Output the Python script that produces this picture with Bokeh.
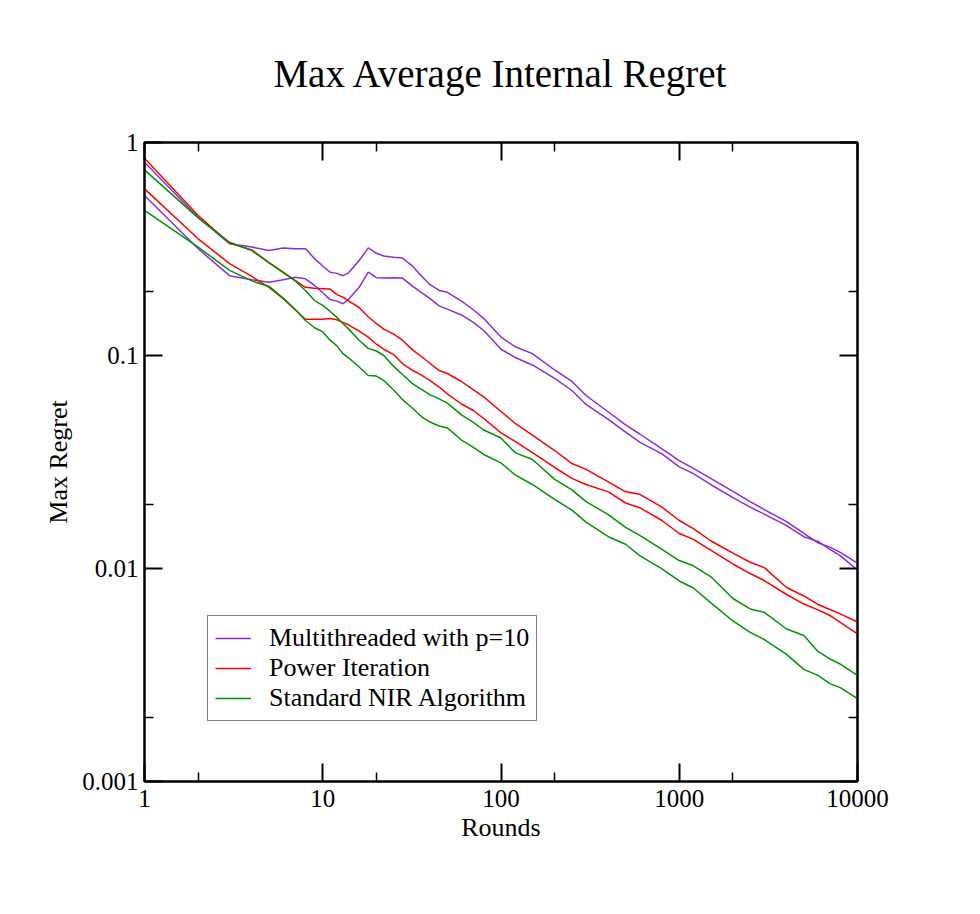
from bokeh.plotting import figure
from bokeh.models import LogAxis, FixedTicker, Legend, LegendItem, Range1d
from bokeh.embed import file_html
from bokeh.resources import INLINE

# ---------------- data ----------------
rounds = [1, 2, 3, 4, 5, 6, 7, 8, 9, 10,
          11, 12, 13, 14, 16, 18, 20, 22, 25, 28,
          32, 36, 40, 45, 50, 60, 70, 80, 100, 120,
          150, 200, 250, 300, 400, 500, 600, 800, 1000, 1200,
          1500, 2000, 2500, 3000, 4000, 5000, 6000, 7000, 8000, 10000]

multi_upper = [0.808, 0.445, 0.335, 0.323, 0.311, 0.320, 0.317, 0.317, 0.285, 0.263,
               0.246, 0.243, 0.237, 0.245, 0.279, 0.320, 0.302, 0.293, 0.289, 0.287,
               0.262, 0.235, 0.215, 0.202, 0.198, 0.180, 0.164, 0.149, 0.122, 0.110,
               0.102, 0.0855, 0.0755, 0.0649, 0.0543, 0.0472, 0.0428, 0.0364, 0.0321, 0.0295,
               0.0265, 0.0230, 0.0206, 0.0189, 0.0166, 0.0146, 0.0132, 0.0126, 0.0119, 0.0106]
multi_lower = [0.564, 0.317, 0.237, 0.227, 0.221, 0.227, 0.233, 0.229, 0.213, 0.197,
               0.183, 0.180, 0.175, 0.184, 0.209, 0.246, 0.232, 0.231, 0.232, 0.231,
               0.211, 0.197, 0.185, 0.171, 0.165, 0.155, 0.143, 0.131, 0.107, 0.0979,
               0.0903, 0.0780, 0.0685, 0.0589, 0.0501, 0.0437, 0.0392, 0.0345, 0.0300, 0.0279,
               0.0248, 0.0215, 0.0194, 0.0180, 0.0159, 0.0141, 0.0134, 0.0123, 0.0115, 0.00984]
power_upper = [0.844, 0.454, 0.337, 0.313, 0.273, 0.246, 0.225, 0.209, 0.207, 0.206,
               0.205, 0.193, 0.188, 0.180, 0.168, 0.152, 0.141, 0.133, 0.126, 0.118,
               0.106, 0.0984, 0.0917, 0.0850, 0.0823, 0.0755, 0.0689, 0.0639, 0.0546, 0.0480,
               0.0423, 0.0358, 0.0311, 0.0292, 0.0255, 0.0229, 0.0223, 0.0194, 0.0168, 0.0154,
               0.0135, 0.0118, 0.0107, 0.0101, 0.00814, 0.00743, 0.00678, 0.00642, 0.00612, 0.00561]
power_lower = [0.606, 0.353, 0.270, 0.235, 0.209, 0.185, 0.164, 0.148, 0.148, 0.148,
               0.149, 0.147, 0.143, 0.139, 0.130, 0.122, 0.113, 0.107, 0.101, 0.0917,
               0.0850, 0.0806, 0.0763, 0.0711, 0.0660, 0.0592, 0.0552, 0.0506, 0.0433, 0.0395,
               0.0350, 0.0298, 0.0265, 0.0248, 0.0229, 0.0203, 0.0193, 0.0168, 0.0146, 0.0137,
               0.0122, 0.0105, 0.00947, 0.00878, 0.00755, 0.00681, 0.00639, 0.00602, 0.00558, 0.00493]
standard_upper = [0.744, 0.443, 0.340, 0.311, 0.272, 0.245, 0.224, 0.202, 0.181, 0.172,
                  0.161, 0.151, 0.141, 0.133, 0.118, 0.108, 0.105, 0.100, 0.0889, 0.0814,
                  0.0736, 0.0692, 0.0653, 0.0626, 0.0598, 0.0526, 0.0485, 0.0447, 0.0410, 0.0350,
                  0.0325, 0.0262, 0.0234, 0.0206, 0.0179, 0.0156, 0.0143, 0.0123, 0.0109, 0.0103,
                  0.00917, 0.00723, 0.00646, 0.00622, 0.00520, 0.00485, 0.00408, 0.00376, 0.00356, 0.00315]
standard_lower = [0.480, 0.323, 0.251, 0.224, 0.211, 0.186, 0.165, 0.146, 0.135, 0.129,
                  0.118, 0.111, 0.102, 0.0973, 0.0883, 0.0806, 0.0801, 0.0763, 0.0689, 0.0621,
                  0.0564, 0.0514, 0.0487, 0.0467, 0.0457, 0.0401, 0.0370, 0.0343, 0.0313, 0.0275,
                  0.0248, 0.0211, 0.0188, 0.0165, 0.0141, 0.0130, 0.0115, 0.00995, 0.00874, 0.00810,
                  0.00692, 0.00567, 0.00501, 0.00464, 0.00395, 0.00336, 0.00315, 0.00288, 0.00276, 0.00245]

series_names = ["Multithreaded with p=10", "Power Iteration", "Standard NIR Algorithm"]
series_colors = ["#8a2be2", "#ff0000", "#009400"]

x_ticks = [1, 10, 100, 1000, 10000]
x_minor = [2, 20, 200, 2000]
x_tick_labels = ["1", "10", "100", "1000", "10000"]
y_ticks = [0.001, 0.01, 0.1, 1]
y_minor = [0.002, 0.02, 0.2]
y_tick_labels = ["0.001", "0.01", "0.1", "1"]

title_text = "Max Average Internal Regret"
x_label = "Rounds"
y_label = "Max Regret"

FONT = "Liberation Serif"

# ---------------- figure ----------------
p = figure(x_axis_type="log", y_axis_type="log",
           x_range=Range1d(1, 10000), y_range=Range1d(0.001, 1),
           frame_width=713, frame_height=639,
           min_border_left=144, min_border_top=142,
           min_border_right=100, min_border_bottom=125,
           output_backend="svg", toolbar_location=None,
           background_fill_color="white", border_fill_color="white")
p.outline_line_color = "black"
p.outline_line_width = 2
p.xgrid.grid_line_color = None
p.ygrid.grid_line_color = None

p.title.text = title_text
p.title.align = "center"
p.title.text_font = FONT
p.title.text_font_size = "39px"
p.title.text_font_style = "normal"
p.title.text_color = "black"
p.title.standoff = 96


def style_axis(ax, ticks, minor, labels, show_labels):
    ax.ticker = FixedTicker(ticks=ticks, minor_ticks=minor)
    ax.major_tick_in = 18
    ax.major_tick_out = 0
    ax.minor_tick_in = 9
    ax.minor_tick_out = 0
    ax.major_tick_line_width = 2
    ax.minor_tick_line_width = 1.5
    ax.major_tick_line_color = "black"
    ax.minor_tick_line_color = "black"
    ax.axis_line_width = 2
    ax.axis_line_color = "black"
    ax.major_label_overrides = {t: l for t, l in zip(ticks, labels)}
    if show_labels:
        ax.major_label_text_font = FONT
        ax.major_label_text_font_size = "25px"
        ax.major_label_text_color = "black"
        ax.major_label_standoff = 8
        ax.axis_label_text_font = FONT
        ax.axis_label_text_font_size = "26px"
        ax.axis_label_text_font_style = "normal"
        ax.axis_label_text_color = "black"
    else:
        ax.major_label_text_font_size = "1px"
        ax.major_label_text_alpha = 0
        ax.major_label_standoff = 0


xb = p.xaxis[0]
yl = p.yaxis[0]
style_axis(xb, x_ticks, x_minor, x_tick_labels, True)
style_axis(yl, y_ticks, y_minor, y_tick_labels, True)
xb.axis_label = x_label
yl.axis_label = y_label
xb.axis_label_standoff = 3
yl.axis_label_standoff = 6
yl.major_label_standoff = 6

xt = LogAxis()
style_axis(xt, x_ticks, x_minor, x_tick_labels, False)
p.add_layout(xt, "above")
yr = LogAxis()
style_axis(yr, y_ticks, y_minor, y_tick_labels, False)
p.add_layout(yr, "right")

# ---------------- lines ----------------
pairs = [(multi_upper, multi_lower), (power_upper, power_lower),
         (standard_upper, standard_lower)]
items = []
for name, color, (up, lo) in zip(series_names, series_colors, pairs):
    r1 = p.line(rounds, up, line_color=color, line_width=1.5)
    p.line(rounds, lo, line_color=color, line_width=1.5)
    items.append(LegendItem(label=name, renderers=[r1]))

legend = Legend(items=items, location=(63, 60))
legend.label_text_font = FONT
legend.label_text_font_size = "26px"
legend.label_text_color = "black"
legend.glyph_width = 36
legend.glyph_height = 28
legend.label_height = 28
legend.label_standoff = 18
legend.spacing = 0
legend.padding = 7
legend.margin = 0
legend.border_line_color = "black"
legend.border_line_width = 1.5
legend.background_fill_color = "white"
legend.background_fill_alpha = 1
p.add_layout(legend)

open("out.html", "w").write(file_html(p, INLINE))
